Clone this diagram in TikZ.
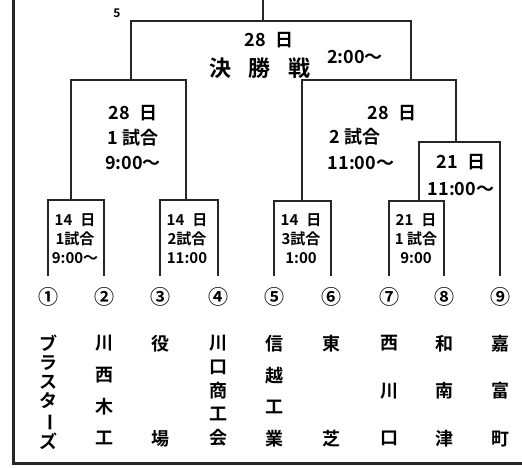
\documentclass[tikz,border=0pt]{standalone}
\usepackage{fontspec}
\newfontfamily\cjk[BoldFont={* Bold}]{Noto Sans CJK JP}
\tikzset{
  bracket/.style={line width=1.3pt, black!85},
  frame/.style={line width=3pt, black!85},
  info/.style={font=\cjk\bfseries\fontsize{18}{25}\selectfont, inner sep=0pt, align=center},
  title/.style={font=\cjk\bfseries\fontsize{22}{22}\selectfont, inner sep=0pt},
  slot/.style={font=\cjk\bfseries\fontsize{15}{19}\selectfont, inner sep=0pt, align=center},
  seed/.style={font=\cjk\bfseries\fontsize{20}{20}\selectfont, inner sep=0pt},
  team/.style={font=\cjk\bfseries\fontsize{18}{#1}\selectfont, inner sep=0pt, align=center, anchor=north},
}
\newcommand{\chouon}{\rotatebox[origin=c]{-90}{ー}}
\newcommand{\gap}{\hskip10pt}
\begin{document}
\begin{tikzpicture}[x=1pt, y=-1pt]
    \fill[white] (0,0) rectangle (522,468);
    \useasboundingbox (0,0) rectangle (522,468);
    \draw[frame] (13,0) -- (13,463) -- (522,463);

    % seeds and teams
    \foreach \x/\s [count=\i] in {48/①,104/②,160/③,218/④,274/⑤,331/⑥,389/⑦,444/⑧,500/⑨}
        \node[seed] (c\i) at (\x,297) {\s};
    \node[team=19] (t1) at (48,335) {ブ\\ラ\\ス\\タ\\\chouon\\ズ};
    \node[team=31.7] (t2) at (104,335) {川\\西\\木\\工};
    \node[team=95] (t3) at (160,335) {役\\場};
    \node[team=23.7] (t4) at (218,335) {川\\口\\商\\工\\会};
    \node[team=31.7] (t5) at (274,335) {信\\越\\工\\業};
    \node[team=95] (t6) at (331,335) {東\\芝};
    \node[team=47.5] (t7) at (389,335) {西\\川\\口};
    \node[team=47.5] (t8) at (444,335) {和\\南\\津};
    \node[team=47.5] (t9) at (500,335) {嘉\\富\\町};

    % joints
    \coordinate (m1) at (71,200);
    \coordinate (m2) at (186,200);
    \coordinate (m3) at (302,201);
    \coordinate (m4) at (419,201);
    \coordinate (q1) at (456,142);
    \coordinate (s1) at (131,80);
    \coordinate (s2) at (411,80);
    \coordinate (fin) at (263,21);
    \coordinate (up) at (263,0);

    \draw[bracket] ([yshift=11pt]c1.north) |- (m1) -| ([yshift=11pt]c2.north);
    \draw[bracket] ([yshift=11pt]c3.north) |- (m2) -| ([yshift=11pt]c4.north);
    \draw[bracket] ([yshift=11pt]c5.north) |- (m3) -| ([yshift=11pt]c6.north);
    \draw[bracket] ([yshift=11pt]c7.north) |- (m4) -| ([yshift=11pt]c8.north);
    \draw[bracket] (m4) |- (q1) -| ([yshift=11pt]c9.north);
    \draw[bracket] (m1) |- (s1) -| (m2);
    \draw[bracket] (m3) |- (s2) -| (q1);
    \draw[bracket] (s1) |- (fin) -| (s2);
    \draw[bracket] (fin) -- (up);

    % match labels
    \node[font=\cjk\bfseries\fontsize{12}{12}\selectfont, inner sep=0pt] (pg) at (117,13) {5};
    \node[info] (fday) at (269,40) {28\gap 日};
    \node[title] (fname) at (260,68) {決\hskip18pt 勝\hskip18pt 戦};
    \node[info] (ftime) at (355,57) {2:00〜};
    \node[info] (sf1) at (133,138) {28\gap 日\\1 試合\\9:00〜};
    \node[info] (sf2day) at (392,113) {28\gap 日};
    \node[info] (sf2no) at (355,137) {2 試合};
    \node[info] (sf2time) at (361,163) {11:00〜};
    \node[info, font=\cjk\bfseries\fontsize{18}{27}\selectfont] (qf) at (461,175) {21\gap 日\\11:00〜};
    \node[slot] (r1) at (75,239) {14\hskip8pt 日\\1試合\\9:00〜};
    \node[slot] (r2) at (187,239) {14\hskip8pt 日\\2試合\\11:00};
    \node[slot] (r3) at (301,239) {14\hskip8pt 日\\3試合\\1:00};
    \node[slot] (r4) at (416,239) {21\hskip8pt 日\\1 試合\\9:00};
\end{tikzpicture}
\end{document}
